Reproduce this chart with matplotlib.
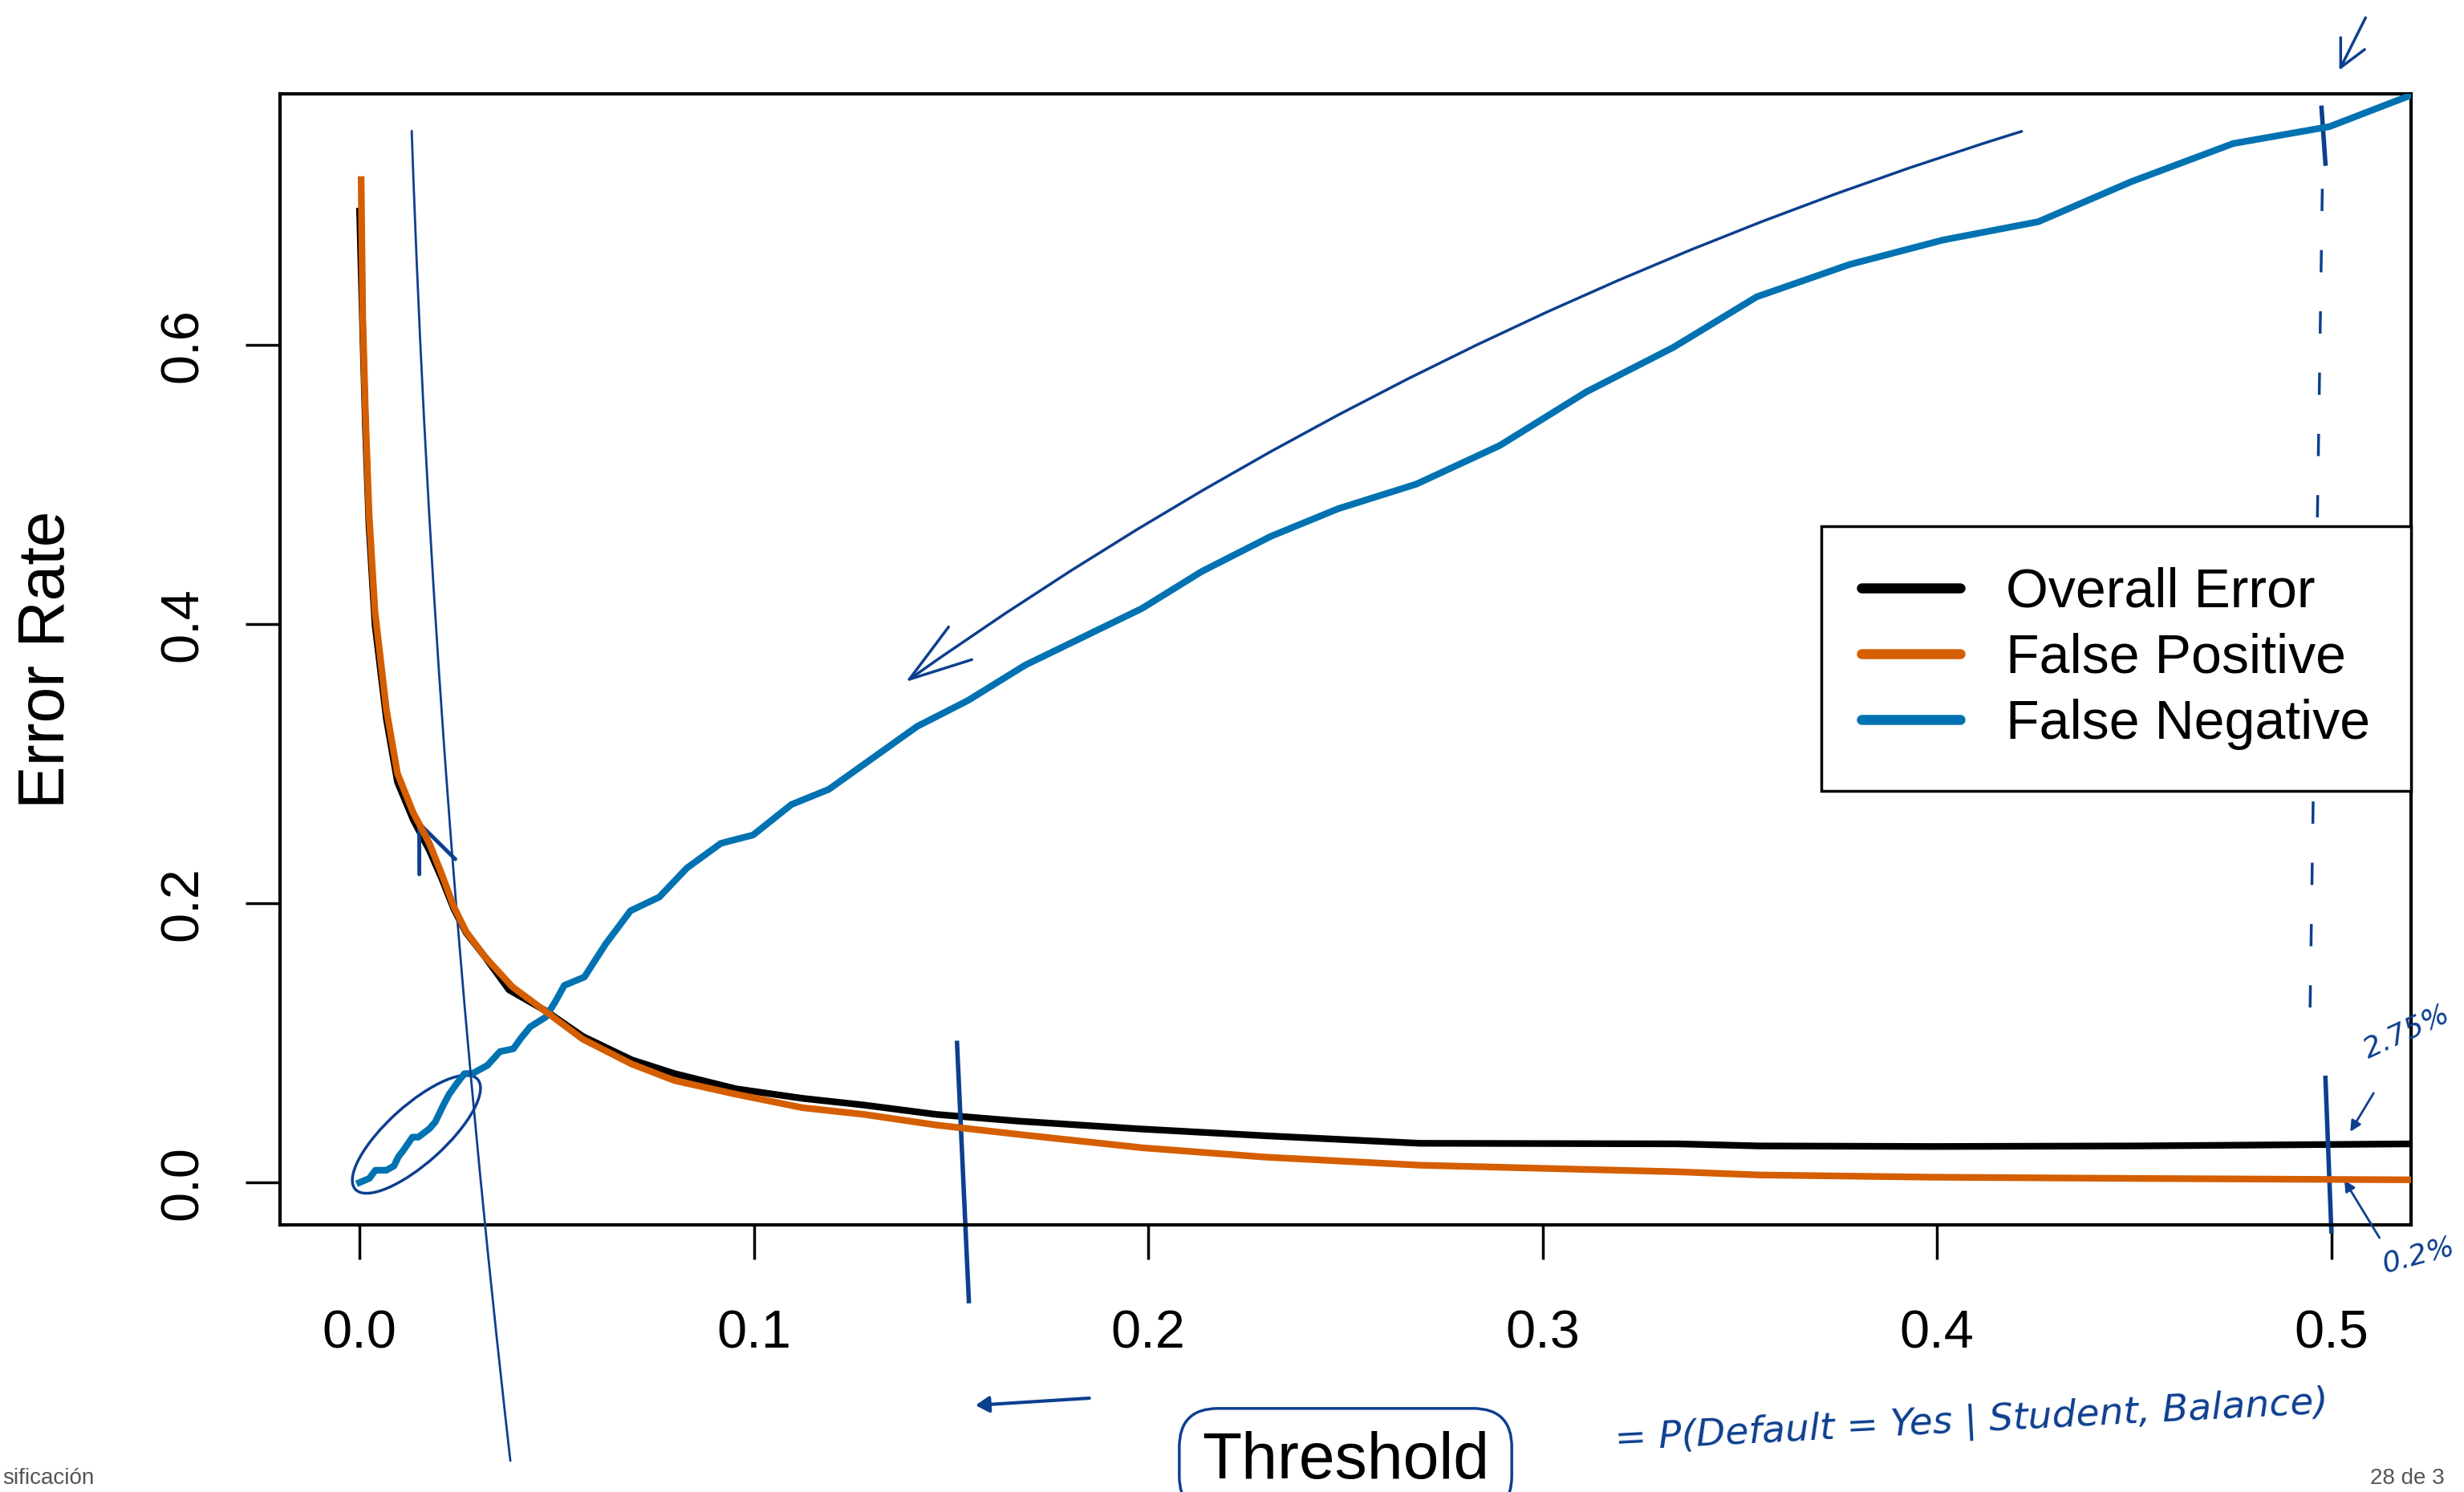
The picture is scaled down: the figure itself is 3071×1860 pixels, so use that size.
import matplotlib
matplotlib.use('Agg')
import matplotlib.pyplot as plt
from matplotlib.patches import Ellipse

# values
fp_x = [0.0004, 0.0008, 0.0015, 0.0024, 0.0039, 0.0068, 0.0096, 0.0136, 0.0177, 0.0208,
        0.0239, 0.027, 0.0317, 0.0387, 0.0472, 0.0566, 0.069, 0.0799, 0.0955, 0.1123,
        0.1279, 0.1462, 0.167, 0.1984, 0.2296, 0.2688, 0.334, 0.3548, 0.399, 0.4513, 0.5212]
fp_y = [0.7186, 0.620, 0.550, 0.4795, 0.4092, 0.3389, 0.2932, 0.265, 0.243, 0.2213,
        0.1976, 0.1798, 0.162, 0.1403, 0.1225, 0.1027, 0.0849, 0.073, 0.0632, 0.0536,
        0.0488, 0.0412, 0.0345, 0.0249, 0.0182, 0.0124, 0.0077, 0.0054, 0.0038, 0.0029, 0.0019]

overall_x = [0.0, 0.0008, 0.0015, 0.0024, 0.0039, 0.0068, 0.0096, 0.0136, 0.0177, 0.0208,
             0.0239, 0.027, 0.0317, 0.0379, 0.0472, 0.0566, 0.069, 0.0799, 0.0955, 0.1123,
             0.1279, 0.1462, 0.167, 0.1984, 0.2296, 0.2688, 0.334, 0.3548, 0.399, 0.4513, 0.5212]
overall_y = [0.696, 0.61, 0.54, 0.47, 0.40, 0.332, 0.287, 0.26, 0.238, 0.218,
             0.196, 0.179, 0.162, 0.138, 0.123, 0.1047, 0.0879, 0.078, 0.0671, 0.0603,
             0.0555, 0.0488, 0.044, 0.0383, 0.0335, 0.0281, 0.0277, 0.0262, 0.0258, 0.0262, 0.0277]

fn_x = [0.0, 0.0025, 0.004, 0.0068, 0.0087, 0.0099, 0.011, 0.0134, 0.0149, 0.0177,
        0.0192, 0.0212, 0.0227, 0.0247, 0.0266, 0.0286, 0.0324, 0.0356, 0.039, 0.041,
        0.0433, 0.0472, 0.0496, 0.0519, 0.057, 0.0624, 0.0687, 0.076, 0.083, 0.0916,
        0.0998, 0.1095, 0.119, 0.1414, 0.1543, 0.1688, 0.1984, 0.2135, 0.2311, 0.2482,
        0.268, 0.2891, 0.3111, 0.3331, 0.3543, 0.3778, 0.4014, 0.4257, 0.4492, 0.4751,
        0.4995, 0.5207]
fn_y = [0.0, 0.003, 0.0088, 0.0088, 0.0118, 0.0187, 0.0226, 0.0325, 0.0325, 0.0385,
        0.0434, 0.0552, 0.0632, 0.0711, 0.078, 0.078, 0.0839, 0.0938, 0.0958, 0.1037,
        0.1116, 0.1185, 0.1294, 0.1412, 0.1472, 0.1709, 0.1947, 0.2045, 0.2253, 0.243,
        0.249, 0.2708, 0.2817, 0.3268, 0.3454, 0.3707, 0.4113, 0.4377, 0.463, 0.4828,
        0.5004, 0.528, 0.5665, 0.5983, 0.6346, 0.6577, 0.6752, 0.6884, 0.717, 0.7444,
        0.7565, 0.7796]

x_ticks = [0.0, 0.1, 0.2, 0.3, 0.4, 0.5]
y_ticks = [0.0, 0.2, 0.4, 0.6]
labels = ['Overall Error', 'False Positive', 'False Negative']

plt.rcParams['font.family'] = ['Liberation Sans', 'DejaVu Sans']
ink = '#0D3F8F'

fig = plt.figure(figsize=(30.71, 18.60), dpi=100)
ax = fig.add_axes([0.1136, 0.179, 0.8649, 0.7581])

ax.plot(overall_x, overall_y, color='black', lw=6, label=labels[0], zorder=2)
ax.plot(fn_x, fn_y, color='#0072B2', lw=6, label=labels[2], zorder=3)
ax.plot(fp_x, fp_y, color='#D55E00', lw=6, label=labels[1], zorder=4)

ax.set_xlim(-0.0202, 0.5202)
ax.set_ylim(-0.0304, 0.78)
ax.set_xticks(x_ticks)
ax.set_xticklabels(['%.1f' % v for v in x_ticks])
ax.set_yticks(y_ticks)
ax.set_yticklabels(['%.1f' % v for v in y_ticks], rotation=90, va='center')
ax.tick_params(length=31, width=2.5, labelsize=48)
ax.tick_params(axis='x', pad=45)
ax.tick_params(axis='y', pad=33)
for s in ax.spines.values():
    s.set_linewidth(3)

fig.text(1677 / 3071, 1 - 1843 / 1860, 'Threshold', ha='center', va='baseline', fontsize=58,
         bbox=dict(boxstyle='round,pad=0.35,rounding_size=0.6', fc='none', ec=ink, lw=2.5))
fig.text(59 / 3071, 1 - 822 / 1860, 'Error Rate', ha='center', va='center', rotation=90, fontsize=58)

h = ax.get_legend_handles_labels()
order = [0, 2, 1]
leg = ax.legend([h[0][i] for i in order], [h[1][i] for i in order],
                loc='upper right', bbox_to_anchor=(1.0, 0.6177), fontsize=49,
                fancybox=False, framealpha=1, edgecolor='black', borderpad=0.74,
                labelspacing=0.27, handlelength=1.8, handletextpad=0.85, borderaxespad=0)
leg.get_frame().set_linewidth(2.5)
for line in leg.get_lines():
    line.set_linewidth(9)
    line.set_solid_capstyle('round')

# handwritten notes over the chart
arr = dict(color=ink, lw=2)
ax.annotate('', xy=(0.138, 0.3577), xytext=(0.422, 0.7536),
            arrowprops=dict(arrowstyle='->,head_length=1.4,head_width=0.45', mutation_scale=40,
                            connectionstyle='arc3,rad=0.08', color=ink, lw=2.5))
ax.annotate('', xy=(0.0383, -0.201), xytext=(0.0132, 0.755), annotation_clip=False,
            arrowprops=dict(arrowstyle='-', connectionstyle='arc3,rad=0.02', **arr))
ax.annotate('', xy=(0.0144, 0.262), xytext=(0.0244, 0.1947),
            arrowprops=dict(arrowstyle='->,head_length=1.2,head_width=0.5', mutation_scale=35,
                            color=ink, lw=3.5))
ax.add_patch(Ellipse((5.19, 4.46), 2.05, 0.72, angle=42, transform=fig.dpi_scale_trans,
                     fc='none', ec=ink, lw=2.5, clip_on=False))
ax.plot([0.4977, 0.4945], [0.712, 0.105], color=ink, lw=2.5, dashes=(8, 14))
ax.plot([0.1515, 0.1545], [0.10, -0.085], color=ink, lw=4, clip_on=False)
ax.plot([0.4985, 0.5], [0.075, -0.035], color=ink, lw=4, clip_on=False)
ax.plot([0.4975, 0.4985], [0.77, 0.73], color=ink, lw=4)
ax.annotate('', xy=(0.5045, 0.035), xytext=(0.511, 0.0654),
            arrowprops=dict(arrowstyle='-|>,head_length=0.8,head_width=0.4', **arr))
ax.annotate('', xy=(0.503, 0.003), xytext=(0.5125, -0.041), annotation_clip=False,
            arrowprops=dict(arrowstyle='-|>,head_length=0.8,head_width=0.4', **arr))
ax.text(0.519, 0.108, '2.75%', color=ink, fontsize=26, rotation=25, ha='center', va='center',
        family=['DejaVu Sans'], style='italic', clip_on=False)
ax.text(0.522, -0.052, '0.2%', color=ink, fontsize=26, rotation=15, ha='center', va='center',
        family=['DejaVu Sans'], style='italic', clip_on=False)
fig.text(0.800, 0.047, '= P(Default = Yes | Student, Balance)', color=ink, fontsize=34,
         rotation=3, ha='center', va='center', family=['DejaVu Sans'], style='italic')
ax.annotate('', xy=(0.395, 0.058), xytext=(0.443, 0.063), xycoords='figure fraction',
            textcoords='figure fraction', annotation_clip=False,
            arrowprops=dict(arrowstyle='-|>,head_length=1.0,head_width=0.6', color=ink, lw=3))
ax.annotate('', xy=(1488 / 1568, 1 - 46 / 950), xytext=(1506 / 1568, 1 - 10 / 950),
            xycoords='figure fraction', textcoords='figure fraction', annotation_clip=False,
            arrowprops=dict(arrowstyle='->,head_length=0.8,head_width=0.4', mutation_scale=30,
                            color=ink, lw=2.5))

fig.text(0.001, 0.009, 'sificación', fontsize=20, color='#555555', ha='left', va='center')
fig.text(0.962, 0.009, '28 de 3', fontsize=20, color='#555555', ha='left', va='center')

plt.savefig('out.png', dpi=100)
